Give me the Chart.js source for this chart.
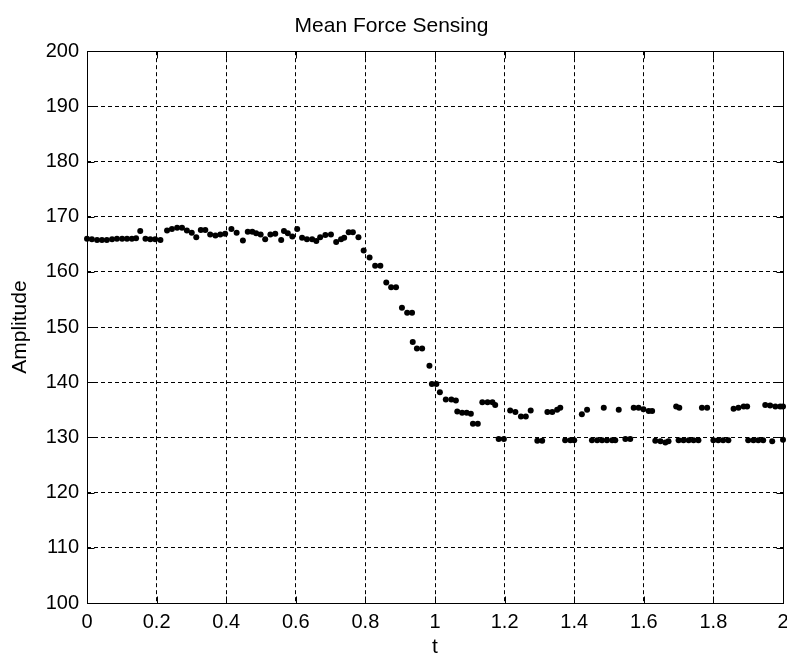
<!DOCTYPE html>
<html>
<head>
<meta charset="utf-8">
<script src="https://cdn.jsdelivr.net/npm/chart.js@4.4.1/dist/chart.umd.min.js"></script>
<style>
  html, body { margin: 0; padding: 0; background: #fff; overflow: hidden; }
  #wrap { width: 787px; height: 655px; }
</style>
</head>
<body>
<div id="wrap"><canvas id="c" width="787" height="655"></canvas></div>
<script>
// Sample times (s) of the force readings
const tValues = [
  0.000, 0.014, 0.029, 0.043, 0.057, 0.072, 0.086, 0.101, 0.115, 0.129,
  0.141, 0.153, 0.168, 0.182, 0.196, 0.211, 0.230, 0.244, 0.259, 0.273,
  0.287, 0.301, 0.314, 0.327, 0.340, 0.354, 0.369, 0.383, 0.397, 0.415,
  0.430, 0.448, 0.462, 0.475, 0.486, 0.499, 0.512, 0.527, 0.541, 0.558,
  0.566, 0.577, 0.590, 0.604, 0.618, 0.632, 0.647, 0.659, 0.670, 0.685,
  0.701, 0.716, 0.730, 0.739, 0.752, 0.764, 0.780,
  0.795, 0.812, 0.828, 0.843, 0.860, 0.874, 0.888, 0.905, 0.920, 0.934,
  0.936, 0.948, 0.963, 0.984, 0.991, 1.004, 1.014, 1.031, 1.047, 1.060,
  1.064, 1.078, 1.091, 1.103, 1.109, 1.123, 1.136, 1.151, 1.165, 1.173,
  1.183, 1.198, 1.216, 1.231, 1.247, 1.261, 1.275, 1.294, 1.308, 1.323,
  1.337, 1.351, 1.360,
  1.374, 1.389, 1.400, 1.422, 1.437, 1.451, 1.466, 1.480, 1.485, 1.494,
  1.509, 1.518, 1.528, 1.547, 1.561, 1.571, 1.585, 1.599, 1.614, 1.624,
  1.633, 1.648, 1.662, 1.671,
  1.693, 1.702, 1.700, 1.714, 1.729, 1.743, 1.757, 1.767, 1.782, 1.800,
  1.814, 1.828, 1.843, 1.858, 1.872, 1.887, 1.897, 1.900, 1.915, 1.929,
  1.943, 1.949, 1.963, 1.969, 1.978, 1.992, 2.000, 2.000
];

// Mean sensed force amplitude at each sample time
const amplitude = [
  166.0, 165.9, 165.8, 165.8, 165.8, 165.9, 166.0, 166.0, 166.0, 166.0,
  166.1, 167.4, 166.0, 165.9, 165.9, 165.8, 167.5, 167.8, 168.0, 168.0,
  167.5, 167.1, 166.3, 167.6, 167.6, 166.8, 166.6, 166.8, 166.9, 167.8,
  167.1, 165.7, 167.3, 167.3, 167.0, 166.8, 165.9, 166.8, 166.9, 165.8,
  167.4, 167.0, 166.4, 167.8, 166.2, 165.9, 165.9, 165.6, 166.3, 166.7,
  166.8, 165.4, 165.9, 166.2, 167.2, 167.2, 166.3,
  163.9, 162.6, 161.1, 161.1, 158.1, 157.2, 157.2, 153.5, 152.6, 152.6,
  147.3, 146.1, 146.1, 143.0, 139.7, 139.7, 138.2, 136.9, 136.9, 136.7,
  134.7, 134.5, 134.5, 134.3, 132.5, 132.5, 136.4, 136.4, 136.4, 135.9,
  129.7, 129.7, 134.9, 134.6, 133.8, 133.8, 134.9, 129.4, 129.4, 134.6,
  134.6, 135.0, 135.4,
  129.5, 129.5, 129.5, 134.2, 135.0, 129.5, 129.5, 129.5, 135.4, 129.5,
  129.5, 129.5, 135.0, 129.7, 129.7, 135.4, 135.4, 135.1, 134.8, 134.8,
  129.4, 129.3, 129.1, 129.3,
  135.6, 135.4, 129.5, 129.5, 129.5, 129.5, 129.5, 135.4, 135.4, 129.5,
  129.5, 129.5, 129.5, 135.2, 135.4, 135.6, 135.6, 129.5, 129.5, 129.5,
  129.5, 135.9, 135.8, 129.3, 135.6, 135.6, 135.6, 129.6
];

const xTicks = [0, 0.2, 0.4, 0.6, 0.8, 1, 1.2, 1.4, 1.6, 1.8, 2];
const yTicks = [100, 110, 120, 130, 140, 150, 160, 170, 180, 190, 200];

const FONT = '"Liberation Sans", Arial, Helvetica, sans-serif';

const points = tValues.map((t, i) => ({ x: t, y: amplitude[i] }));

// White page background
const background = {
  id: 'background',
  beforeDraw(chart) {
    const ctx = chart.ctx;
    ctx.save();
    ctx.fillStyle = '#fff';
    ctx.fillRect(0, 0, chart.width, chart.height);
    ctx.restore();
  }
};

// Solid axes box with inward tick marks on all four sides
const axesBox = {
  id: 'axesBox',
  afterDraw(chart) {
    const { ctx, chartArea: a, scales } = chart;
    const al = v => Math.round(v) + 0.5;
    const L = al(a.left), R = al(a.right), T = al(a.top), B = al(a.bottom);
    const len = 7;
    ctx.save();
    ctx.strokeStyle = '#000';
    ctx.lineWidth = 1;
    ctx.setLineDash([]);
    ctx.strokeRect(L, T, R - L, B - T);
    ctx.beginPath();
    scales.x.ticks.forEach(tk => {
      const px = al(scales.x.getPixelForValue(tk.value));
      ctx.moveTo(px, B); ctx.lineTo(px, B - len);
      ctx.moveTo(px, T); ctx.lineTo(px, T + len);
    });
    scales.y.ticks.forEach(tk => {
      const py = al(scales.y.getPixelForValue(tk.value));
      ctx.moveTo(L, py); ctx.lineTo(L + len, py);
      ctx.moveTo(R, py); ctx.lineTo(R - len, py);
    });
    ctx.stroke();
    ctx.restore();
  }
};

new Chart(document.getElementById('c'), {
  type: 'scatter',
  data: {
    datasets: [{
      data: points,
      pointRadius: 3,
      pointHoverRadius: 3,
      pointBackgroundColor: '#000',
      pointBorderWidth: 0,
      pointStyle: 'circle',
      showLine: false,
      clip: false
    }]
  },
  options: {
    responsive: false,
    animation: false,
    devicePixelRatio: 1,
    layout: { padding: { left: 0, right: 4, top: 0, bottom: 0 } },
    plugins: {
      legend: { display: false },
      tooltip: { enabled: false },
      title: {
        display: true,
        text: 'Mean Force Sensing',
        color: '#000',
        font: { family: FONT, size: 21, weight: 'normal', lineHeight: 1.2 },
        padding: { top: 14, bottom: 12 }
      }
    },
    scales: {
      x: {
        type: 'linear',
        position: 'bottom',
        min: 0,
        max: 2,
        afterBuildTicks: s => { s.ticks = xTicks.map(v => ({ value: v })); },
        afterFit: s => { s.height = 52; s.paddingLeft = 0; s.paddingRight = 0; },
        ticks: {
          color: '#000',
          font: { family: FONT, size: 20 },
          padding: 7,
          maxRotation: 0,
          autoSkip: false,
          callback: v => String(+Number(v).toFixed(1))
        },
        grid: { color: '#000', lineWidth: 1, drawTicks: false },
        border: { display: false, dash: [4, 3] },
        title: {
          display: true,
          text: 't',
          color: '#000',
          font: { family: FONT, size: 21, lineHeight: 1.2 },
          padding: { top: 0, bottom: -5 }
        }
      },
      y: {
        type: 'linear',
        min: 100,
        max: 200,
        afterBuildTicks: s => { s.ticks = yTicks.map(v => ({ value: v })); },
        afterFit: s => { s.width = 87; s.paddingTop = 0; s.paddingBottom = 0; },
        ticks: {
          color: '#000',
          font: { family: FONT, size: 20 },
          padding: 8,
          autoSkip: false,
          callback: v => String(v)
        },
        grid: { color: '#000', lineWidth: 1, drawTicks: false },
        border: { display: false, dash: [4, 3] },
        title: {
          display: true,
          text: 'Amplitude',
          color: '#000',
          font: { family: FONT, size: 21, lineHeight: 1.2 },
          padding: { top: 8, bottom: 0 }
        }
      }
    }
  },
  plugins: [background, axesBox]
});
</script>
</body>
</html>
